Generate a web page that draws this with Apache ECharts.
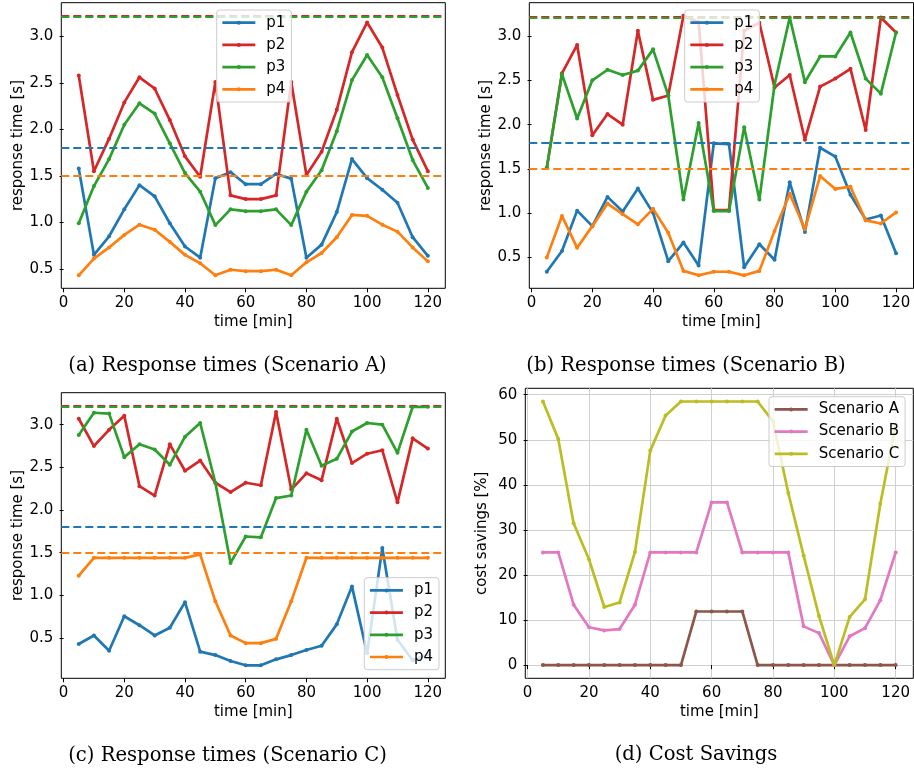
<!DOCTYPE html>
<html><head><meta charset="utf-8">
<script src="https://cdn.jsdelivr.net/npm/echarts@6/dist/echarts.min.js"></script>
<style>html,body{margin:0;padding:0;background:#fff}#c{width:914px;height:772px}</style>
</head><body><div id="c"></div>
<script>
const times = [5,10,15,20,25,30,35,40,45,50,55,60,65,70,75,80,85,90,95,100,105,110,115,120];
const xTicks = [0,20,40,60,80,100,120];
const rtTicks = [0.5,1.0,1.5,2.0,2.5,3.0];
const costTicks = [0,10,20,30,40,50,60];
const pNames = ['p1','p2','p3','p4'];
const thresholds = [1.8, 3.223, 3.213, 1.5];

const aP1 = [1.58,0.65,0.85,1.14,1.40,1.28,0.99,0.74,0.62,1.475,1.54,1.41,1.41,1.52,1.47,0.62,0.76,1.11,1.68,1.475,1.35,1.21,0.84,0.64];
const aP2 = [2.58,1.55,1.90,2.29,2.56,2.44,2.10,1.71,1.49,2.51,1.29,1.25,1.25,1.29,2.51,1.51,1.76,2.21,2.83,3.15,2.88,2.37,1.89,1.55];
const aP3 = [0.99,1.39,1.68,2.05,2.28,2.17,1.85,1.53,1.33,0.97,1.14,1.12,1.12,1.14,0.97,1.33,1.56,1.98,2.53,2.80,2.56,2.12,1.67,1.37];
const aP4 = [0.43,0.61,0.73,0.865,0.975,0.92,0.79,0.65,0.56,0.43,0.49,0.475,0.475,0.49,0.43,0.57,0.67,0.84,1.08,1.07,0.975,0.90,0.73,0.58];

const bP1 = [0.34,0.575,1.03,0.855,1.185,1.02,1.28,1.005,0.46,0.67,0.41,1.79,1.78,0.39,0.65,0.475,1.35,0.79,1.74,1.64,1.21,0.93,0.975,0.55];
const bP2 = [1.51,2.58,2.90,1.88,2.12,2.00,3.06,2.28,2.33,3.23,3.16,1.035,1.035,3.06,3.15,2.42,2.56,1.83,2.43,2.52,2.63,1.94,3.21,3.04];
const bP3 = [1.51,2.57,2.07,2.50,2.62,2.56,2.61,2.85,2.33,1.155,2.02,1.025,1.025,1.97,1.155,2.45,3.21,2.48,2.77,2.77,3.04,2.52,2.35,3.04];
const bP4 = [0.50,0.97,0.61,0.855,1.11,0.99,0.875,1.05,0.78,0.35,0.30,0.34,0.34,0.30,0.35,0.80,1.22,0.82,1.42,1.275,1.30,0.92,0.885,1.01];

const cP1 = [0.43,0.53,0.35,0.755,0.65,0.53,0.62,0.92,0.34,0.30,0.23,0.18,0.18,0.25,0.30,0.36,0.41,0.66,1.105,0.32,1.555,0.48,0.24,0.31];
const cP2 = [3.07,2.75,2.94,3.105,2.28,2.17,2.77,2.46,2.58,2.32,2.21,2.32,2.29,3.15,2.24,2.43,2.35,3.07,2.55,2.66,2.70,2.09,2.84,2.72];
const cP3 = [2.88,3.14,3.13,2.62,2.77,2.71,2.53,2.86,3.02,2.32,1.38,1.69,1.68,2.14,2.17,2.94,2.52,2.60,2.92,3.02,3.00,2.67,3.21,3.21];
const cP4 = [1.23,1.44,1.44,1.44,1.44,1.44,1.44,1.44,1.48,0.93,0.53,0.44,0.44,0.49,0.93,1.44,1.44,1.44,1.44,1.44,1.44,1.44,1.44,1.44];

const scenNames = ['Scenario A','Scenario B','Scenario C'];
const savA = [0,0,0,0,0,0,0,0,0,0,11.9,11.9,11.9,11.9,0,0,0,0,0,0,0,0,0,0];
const savB = [25,25,13.4,8.4,7.7,8.0,13.4,25,25,25,25,36.1,36.1,25,25,25,25,8.6,7.1,0,6.4,8.2,14.4,25];
const savC = [58.5,50.2,31.5,23.5,12.9,13.9,25.1,47.6,55.4,58.5,58.5,58.5,58.5,58.5,58.5,54.1,38.2,24.3,10.9,0,10.7,14.6,35.8,53.3];

const captions = ['(a) Response times (Scenario A)','(b) Response times (Scenario B)','(c) Response times (Scenario C)','(d) Cost Savings'];

const pColors = ['#1f77b4','#d62728','#2ca02c','#ff7f0e'];
const sColors = ['#8c564b','#e377c2','#bcbd22'];

const SANS = 'DejaVu Sans';
const FS = 15;
const grids = [
  {left:61.3, top:2.7, width:384, height:285.6},
  {left:529.3, top:2.7, width:384.2, height:285.6},
  {left:61.3, top:392.7, width:384, height:285.6},
  {left:525.3, top:388.3, width:388, height:290}
];
const legendPos = [
  {left:216.7, top:10}, {left:684.7, top:10}, {left:364.3, top:577.7}, {left:769, top:396.7}
];
const captionPos = [[227.5,366],[686,366],[227.5,756],[696,755]];

function pad(arrs, extra){
  let mn = Infinity, mx = -Infinity;
  arrs.forEach(a=>a.forEach(v=>{mn=Math.min(mn,v);mx=Math.max(mx,v);}));
  (extra||[]).forEach(v=>{mn=Math.min(mn,v);mx=Math.max(mx,v);});
  const r = mx-mn;
  return [mn-0.05*r, mx+0.05*r];
}
const span = times[times.length-1]-times[0];
const xr = [times[0]-0.05*span, times[times.length-1]+0.05*span];

const panels = [
  {series:[aP1,aP2,aP3,aP4], names:pNames, colors:pColors, thr:thresholds, ticks:rtTicks, yname:'response time [s]', dec:1, grid:false},
  {series:[bP1,bP2,bP3,bP4], names:pNames, colors:pColors, thr:thresholds, ticks:rtTicks, yname:'response time [s]', dec:1, grid:false},
  {series:[cP1,cP2,cP3,cP4], names:pNames, colors:pColors, thr:thresholds, ticks:rtTicks, yname:'response time [s]', dec:1, grid:false},
  {series:[savA,savB,savC], names:scenNames, colors:sColors, thr:null, ticks:costTicks, yname:'cost savings [%]', dec:0, grid:true}
];

const option = {animation:false, backgroundColor:'#fff', grid:[], xAxis:[], yAxis:[], legend:[], series:[], graphic:[]};
const axisTxt = {color:'#000', fontFamily:SANS, fontSize:FS};
panels.forEach((p,i)=>{
  option.grid.push(Object.assign({show:true, borderColor:'#000', borderWidth:1, backgroundColor:'transparent', containLabel:false}, grids[i]));
  const yr = pad(p.series, p.thr||[]);
  const gridLine = {show:p.grid, lineStyle:{color:'#d0d0d0', width:1}};
  option.xAxis.push({type:'value', gridIndex:i, min:xr[0], max:xr[1],
    axisLine:{show:false}, axisTick:{show:true, length:4, inside:false, customValues:xTicks, lineStyle:{color:'#000', width:1}},
    axisLabel:Object.assign({customValues:xTicks, margin:7}, axisTxt),
    splitLine:gridLine,
    name:'time [min]', nameLocation:'middle', nameGap:26, nameTextStyle:axisTxt});
  option.yAxis.push({type:'value', gridIndex:i, min:yr[0], max:yr[1],
    axisLine:{show:false}, axisTick:{show:true, length:4, inside:false, customValues:p.ticks, lineStyle:{color:'#000', width:1}},
    axisLabel:Object.assign({customValues:p.ticks, margin:8, formatter:v=>Number(v).toFixed(p.dec)}, axisTxt),
    splitLine:gridLine,
    name:p.yname, nameLocation:'middle', nameGap:36, nameTextStyle:axisTxt});
  p.series.forEach((arr,k)=>{
    const s = {type:'line', name:p.names[k], xAxisIndex:i, yAxisIndex:i,
      data:times.map((t,j)=>[t,arr[j]]), symbol:'circle', symbolSize:4, showSymbol:true,
      color:p.colors[k], lineStyle:{width:2.7, color:p.colors[k]}, itemStyle:{color:p.colors[k]},
      z:2+k, silent:true};
    if(p.thr){
      s.markLine = {silent:true, symbol:'none', label:{show:false}, animation:false,
        lineStyle:{type:[8,4], width:2, color:p.colors[k]}, data:[{yAxis:p.thr[k]}]};
    }
    option.series.push(s);
  });
  option.legend.push(Object.assign({orient:'vertical', data:p.names, itemWidth:33, itemHeight:5, itemGap:7.2,
    padding:[5.2,6,5.2,4.3], backgroundColor:'rgba(255,255,255,0.8)', borderColor:'#cccccc', borderWidth:1, borderRadius:3,
    lineStyle:{width:2.7}, itemStyle:{borderWidth:0},
    textStyle:{color:'#000', fontFamily:SANS, fontSize:FS, lineHeight:FS, padding:[0,0,0,6]}, selectedMode:false, z:10}, legendPos[i]));
  option.graphic.push({type:'text', x:captionPos[i][0], y:captionPos[i][1],
    style:{text:captions[i], font:'19.6px "DejaVu Serif"', fill:'#000', textAlign:'center', textVerticalAlign:'middle'}});
});
const chart = echarts.init(document.getElementById('c'), null, {renderer:'canvas'});
chart.setOption(option);
</script></body></html>
